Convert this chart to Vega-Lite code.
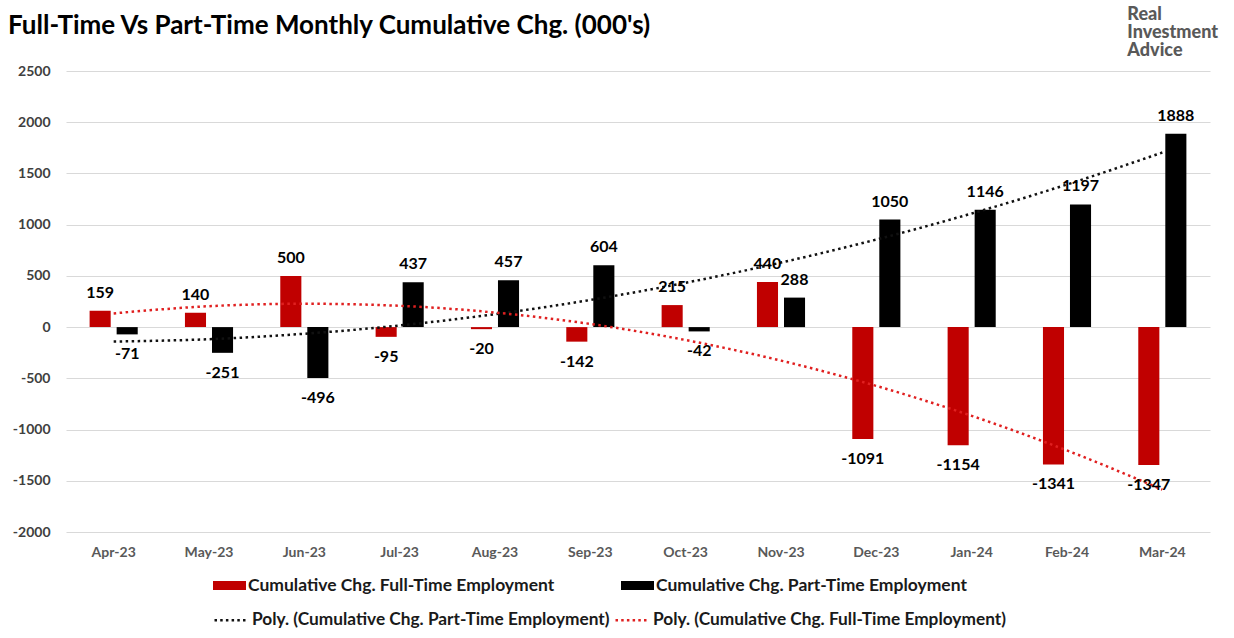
{
  "$schema": "https://vega.github.io/schema/vega-lite/v6.json",
  "autosize": {"type": "none"},
  "padding": {"left": 66, "top": 71, "right": 24, "bottom": 106},
  "width": 1144,
  "height": 461,
  "background": "#ffffff",
  "title": {
    "text": "Full-Time Vs Part-Time Monthly Cumulative Chg. (000's)",
    "anchor": "start",
    "frame": "group",
    "font": "Lato",
    "fontSize": 26,
    "fontWeight": "bold",
    "color": "#000000",
    "dx": -58,
    "offset": -33
  },
  "datasets": {
    "bars": [
      {"month": "Apr-23", "series": "Cumulative Chg. Full-Time Employment", "value": 159},
      {"month": "Apr-23", "series": "Cumulative Chg. Part-Time Employment", "value": -71},
      {"month": "May-23", "series": "Cumulative Chg. Full-Time Employment", "value": 140},
      {"month": "May-23", "series": "Cumulative Chg. Part-Time Employment", "value": -251},
      {"month": "Jun-23", "series": "Cumulative Chg. Full-Time Employment", "value": 500},
      {"month": "Jun-23", "series": "Cumulative Chg. Part-Time Employment", "value": -496},
      {"month": "Jul-23", "series": "Cumulative Chg. Full-Time Employment", "value": -95},
      {"month": "Jul-23", "series": "Cumulative Chg. Part-Time Employment", "value": 437},
      {"month": "Aug-23", "series": "Cumulative Chg. Full-Time Employment", "value": -20},
      {"month": "Aug-23", "series": "Cumulative Chg. Part-Time Employment", "value": 457},
      {"month": "Sep-23", "series": "Cumulative Chg. Full-Time Employment", "value": -142},
      {"month": "Sep-23", "series": "Cumulative Chg. Part-Time Employment", "value": 604},
      {"month": "Oct-23", "series": "Cumulative Chg. Full-Time Employment", "value": 215},
      {"month": "Oct-23", "series": "Cumulative Chg. Part-Time Employment", "value": -42},
      {"month": "Nov-23", "series": "Cumulative Chg. Full-Time Employment", "value": 440},
      {"month": "Nov-23", "series": "Cumulative Chg. Part-Time Employment", "value": 288},
      {"month": "Dec-23", "series": "Cumulative Chg. Full-Time Employment", "value": -1091},
      {"month": "Dec-23", "series": "Cumulative Chg. Part-Time Employment", "value": 1050},
      {"month": "Jan-24", "series": "Cumulative Chg. Full-Time Employment", "value": -1154},
      {"month": "Jan-24", "series": "Cumulative Chg. Part-Time Employment", "value": 1146},
      {"month": "Feb-24", "series": "Cumulative Chg. Full-Time Employment", "value": -1341},
      {"month": "Feb-24", "series": "Cumulative Chg. Part-Time Employment", "value": 1197},
      {"month": "Mar-24", "series": "Cumulative Chg. Full-Time Employment", "value": -1347},
      {"month": "Mar-24", "series": "Cumulative Chg. Part-Time Employment", "value": 1888}
    ],
    "trend": [
      {"month": "Apr-23", "trend": "Poly. (Cumulative Chg. Part-Time Employment)", "value": -141},
      {"month": "May-23", "trend": "Poly. (Cumulative Chg. Part-Time Employment)", "value": -118},
      {"month": "Jun-23", "trend": "Poly. (Cumulative Chg. Part-Time Employment)", "value": -65},
      {"month": "Jul-23", "trend": "Poly. (Cumulative Chg. Part-Time Employment)", "value": 16},
      {"month": "Aug-23", "trend": "Poly. (Cumulative Chg. Part-Time Employment)", "value": 126},
      {"month": "Sep-23", "trend": "Poly. (Cumulative Chg. Part-Time Employment)", "value": 265},
      {"month": "Oct-23", "trend": "Poly. (Cumulative Chg. Part-Time Employment)", "value": 433},
      {"month": "Nov-23", "trend": "Poly. (Cumulative Chg. Part-Time Employment)", "value": 630},
      {"month": "Dec-23", "trend": "Poly. (Cumulative Chg. Part-Time Employment)", "value": 855},
      {"month": "Jan-24", "trend": "Poly. (Cumulative Chg. Part-Time Employment)", "value": 1109},
      {"month": "Feb-24", "trend": "Poly. (Cumulative Chg. Part-Time Employment)", "value": 1392},
      {"month": "Mar-24", "trend": "Poly. (Cumulative Chg. Part-Time Employment)", "value": 1704},
      {"month": "Apr-23", "trend": "Poly. (Cumulative Chg. Full-Time Employment)", "value": 134},
      {"month": "May-23", "trend": "Poly. (Cumulative Chg. Full-Time Employment)", "value": 204},
      {"month": "Jun-23", "trend": "Poly. (Cumulative Chg. Full-Time Employment)", "value": 228},
      {"month": "Jul-23", "trend": "Poly. (Cumulative Chg. Full-Time Employment)", "value": 208},
      {"month": "Aug-23", "trend": "Poly. (Cumulative Chg. Full-Time Employment)", "value": 142},
      {"month": "Sep-23", "trend": "Poly. (Cumulative Chg. Full-Time Employment)", "value": 31},
      {"month": "Oct-23", "trend": "Poly. (Cumulative Chg. Full-Time Employment)", "value": -126},
      {"month": "Nov-23", "trend": "Poly. (Cumulative Chg. Full-Time Employment)", "value": -327},
      {"month": "Dec-23", "trend": "Poly. (Cumulative Chg. Full-Time Employment)", "value": -574},
      {"month": "Jan-24", "trend": "Poly. (Cumulative Chg. Full-Time Employment)", "value": -866},
      {"month": "Feb-24", "trend": "Poly. (Cumulative Chg. Full-Time Employment)", "value": -1204},
      {"month": "Mar-24", "trend": "Poly. (Cumulative Chg. Full-Time Employment)", "value": -1586}
    ]
  },
  "encoding": {
    "x": {
      "field": "month",
      "type": "nominal",
      "sort": ["Apr-23", "May-23", "Jun-23", "Jul-23", "Aug-23", "Sep-23", "Oct-23", "Nov-23", "Dec-23", "Jan-24", "Feb-24", "Mar-24"],
      "scale": {"paddingInner": 0.433, "paddingOuter": 0.2165},
      "axis": {
        "title": null,
        "labelAngle": 0,
        "labelFont": "Lato",
        "labelFontSize": 14,
        "labelFontWeight": "bold",
        "labelColor": "#595959",
        "labelPadding": 13,
        "domain": false,
        "ticks": false,
        "grid": false
      }
    },
    "y": {
      "field": "value",
      "type": "quantitative",
      "scale": {"domain": [-2000, 2500], "nice": false, "zero": false},
      "axis": {
        "title": null,
        "values": [-2000, -1500, -1000, -500, 0, 500, 1000, 1500, 2000, 2500],
        "format": "d",
        "labelFont": "Lato",
        "labelFontSize": 14,
        "labelFontWeight": "bold",
        "labelColor": "#404040",
        "labelPadding": 16,
        "domain": false,
        "ticks": false,
        "grid": true,
        "gridColor": "#d9d9d9",
        "gridWidth": 1
      }
    }
  },
  "layer": [
    {
      "data": {"name": "bars"},
      "mark": {"type": "bar"},
      "encoding": {
        "xOffset": {
          "field": "series",
          "type": "nominal",
          "sort": ["Cumulative Chg. Full-Time Employment", "Cumulative Chg. Part-Time Employment"],
          "scale": {"paddingInner": 0.22, "paddingOuter": 0.11}
        },
        "color": {
          "field": "series",
          "type": "nominal",
          "scale": {
            "domain": ["Cumulative Chg. Full-Time Employment", "Cumulative Chg. Part-Time Employment"],
            "range": ["#C00000", "#000000"]
          },
          "legend": {
            "title": null,
            "orient": "none",
            "legendX": 147,
            "legendY": 498,
            "direction": "horizontal",
            "columns": 2,
            "columnPadding": 66,
            "symbolType": "M-1,-0.27H1V0.27H-1Z",
            "symbolSize": 1089,
            "symbolStrokeWidth": 0,
            "labelFont": "Lato",
            "labelFontSize": 17.5,
            "labelFontWeight": "bold",
            "labelColor": "#1a1a1a",
            "labelLimit": 600,
            "labelOffset": 2
          }
        }
      }
    },
    {
      "data": {"name": "trend"},
      "mark": {"type": "line", "interpolate": "monotone", "strokeDash": [2.5, 3.5], "strokeWidth": 2.5},
      "encoding": {
        "stroke": {
          "field": "trend",
          "type": "nominal",
          "scale": {
            "domain": ["Poly. (Cumulative Chg. Part-Time Employment)", "Poly. (Cumulative Chg. Full-Time Employment)"],
            "range": ["#111111", "#E02020"]
          },
          "legend": {
            "title": null,
            "orient": "none",
            "legendX": 147,
            "legendY": 531,
            "direction": "horizontal",
            "columns": 2,
            "columnPadding": 0,
            "symbolType": "stroke",
            "symbolSize": 1089,
            "symbolStrokeWidth": 2.5,
            "symbolDash": [2.5, 3.2],
            "labelFont": "Lato",
            "labelFontSize": 17.3,
            "labelFontWeight": "bold",
            "labelColor": "#1a1a1a",
            "labelLimit": 600,
            "labelOffset": 3
          }
        }
      }
    },
    {
      "data": {"name": "bars"},
      "transform": [{"filter": "datum.value >= 0"}],
      "mark": {"type": "text", "font": "Lato", "fontSize": 16, "fontWeight": "bold", "color": "#000000", "baseline": "alphabetic", "dy": -13},
      "encoding": {
        "xOffset": {
          "field": "series",
          "type": "nominal",
          "sort": ["Cumulative Chg. Full-Time Employment", "Cumulative Chg. Part-Time Employment"]
        },
        "text": {"field": "value", "type": "quantitative", "format": "d"}
      }
    },
    {
      "data": {"name": "bars"},
      "transform": [{"filter": "datum.value < 0"}],
      "mark": {"type": "text", "font": "Lato", "fontSize": 16, "fontWeight": "bold", "color": "#000000", "baseline": "alphabetic", "dy": 25},
      "encoding": {
        "xOffset": {
          "field": "series",
          "type": "nominal",
          "sort": ["Cumulative Chg. Full-Time Employment", "Cumulative Chg. Part-Time Employment"]
        },
        "text": {"field": "value", "type": "quantitative", "format": "d"}
      }
    },
    {
      "data": {"name": "bars"},
      "transform": [{"filter": "datum.month == 'Mar-24' && datum.value > 0"}],
      "mark": {
        "type": "text",
        "text": ["Real", "Investment", "Advice"],
        "font": "Lato",
        "fontSize": 18,
        "fontWeight": 900,
        "color": "#595959",
        "align": "left",
        "baseline": "top",
        "lineHeight": 18,
        "dx": -35,
        "dy": -65
      },
      "encoding": {
        "y": {"datum": 2500}
      }
    }
  ],
  "config": {
    "view": {"stroke": null},
    "locale": {
      "number": {"decimal": ".", "thousands": "", "grouping": [3], "currency": ["$", ""], "minus": "-"}
    }
  }
}
